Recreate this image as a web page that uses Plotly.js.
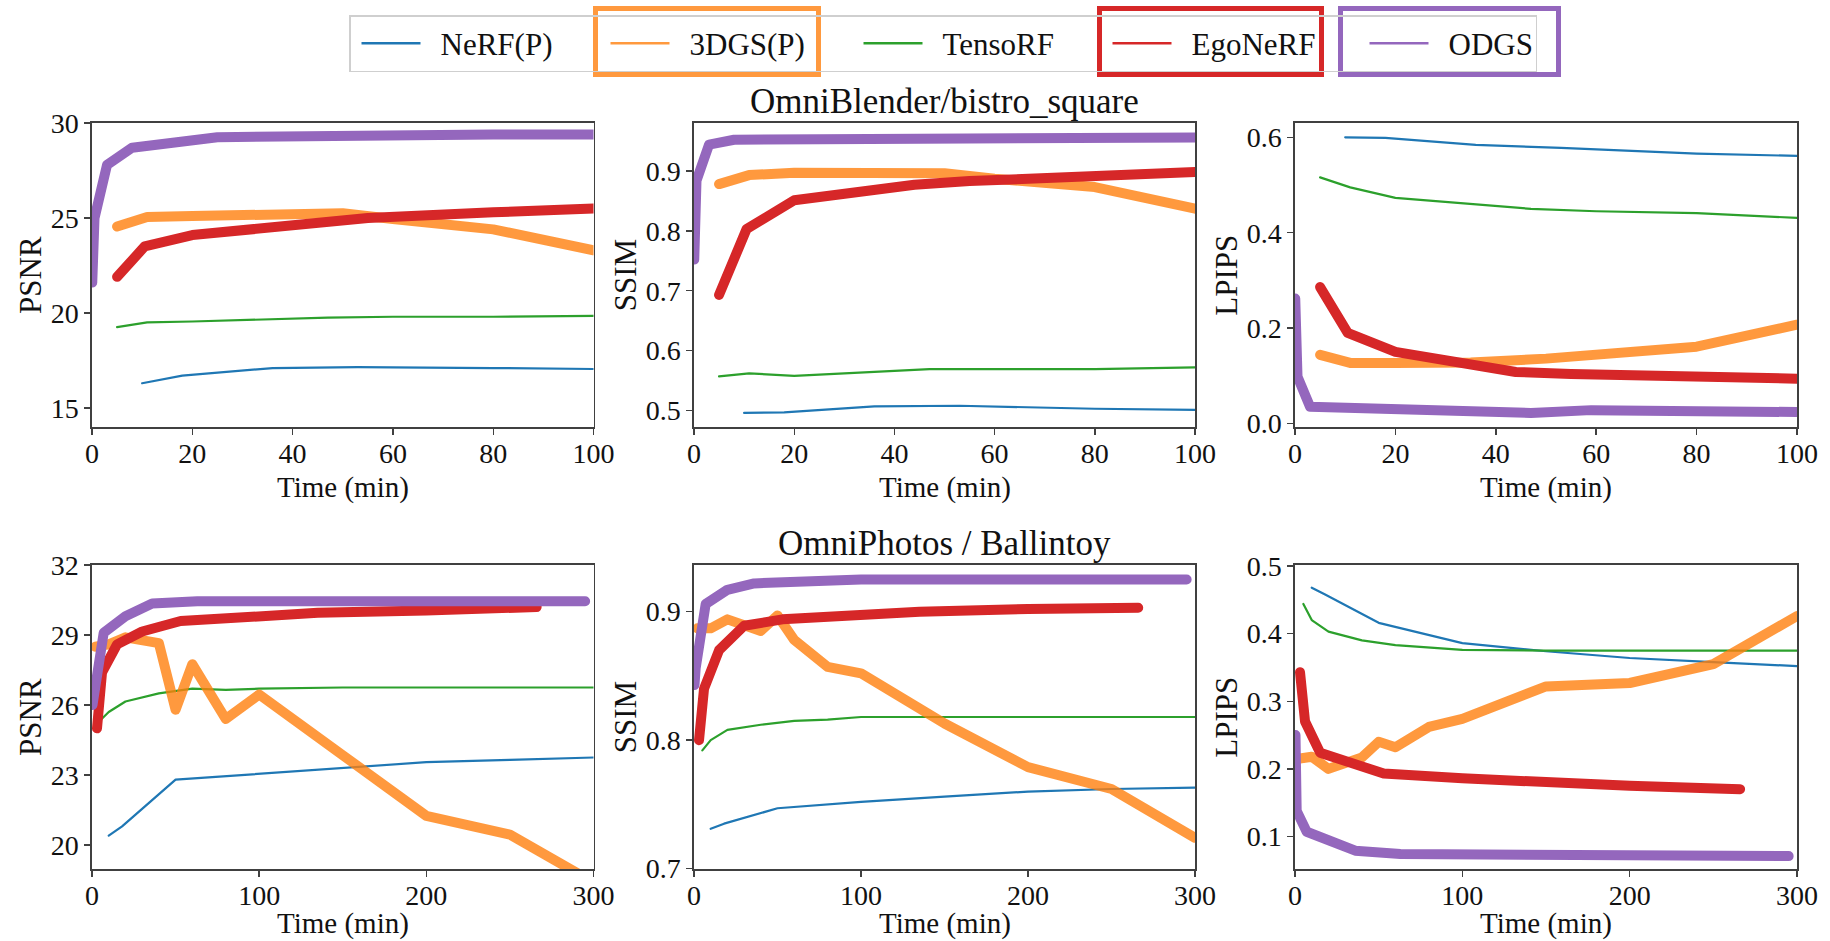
<!DOCTYPE html>
<html>
<head>
<meta charset="utf-8">
<script src="https://cdn.plot.ly/plotly-3.0.1.min.js"></script>
<style>
  html, body { margin: 0; padding: 0; background: #fff; }
  #chart { width: 1830px; height: 941px; }
  .scatterlayer .js-line { stroke-linecap: round !important; stroke-linejoin: round !important; }
  .legend .legendlines path { stroke-dasharray: 0px 6px 59px 400px !important; }
</style>
</head>
<body>
<div id="chart"></div>
<script>
// ---------------- DATA ----------------
const methods = ["NeRF(P)", "3DGS(P)", "TensoRF", "EgoNeRF", "ODGS"];
const datasetTitles = ["OmniBlender/bistro_square", "OmniPhotos / Ballintoy"];
const metricNames = ["PSNR", "SSIM", "LPIPS"];
const xTitle = "Time (min)";

// --- OmniBlender / bistro_square (time in minutes) ---
const topNerfT = [10, 18, 36, 53, 80, 100];
const topNerfPSNR = [16.3, 16.7, 17.1, 17.15, 17.1, 17.05];
const topNerfSSIM = [0.496, 0.497, 0.507, 0.508, 0.503, 0.501];
const topNerfLPIPS = [0.600, 0.599, 0.584, 0.578, 0.566, 0.561];

const topGsT = [5, 11, 20, 35, 50, 60, 80, 100];
const topGsPSNR = [24.55, 25.05, 25.1, 25.2, 25.25, 24.95, 24.4, 23.3];
const topGsSSIM = [0.878, 0.893, 0.897, 0.897, 0.896, 0.887, 0.873, 0.837];
const topGsLPIPS = [0.144, 0.127, 0.127, 0.128, 0.136, 0.144, 0.161, 0.207];

const topTensoT = [5, 11, 20, 47, 60, 80, 100];
const topTensoPSNR = [19.25, 19.5, 19.55, 19.75, 19.8, 19.8, 19.85];
const topTensoSSIM = [0.557, 0.562, 0.558, 0.569, 0.569, 0.569, 0.572];
const topTensoLPIPS = [0.516, 0.495, 0.473, 0.450, 0.445, 0.441, 0.431];

const topEgoT = [5, 10.5, 20, 44, 55, 80, 100];
const topEgoPSNR = [21.9, 23.5, 24.1, 24.65, 25.0, 25.3, 25.5];
const topEgoSSIM = [0.693, 0.803, 0.851, 0.877, 0.883, 0.893, 0.898];
const topEgoLPIPS = [0.286, 0.190, 0.150, 0.108, 0.104, 0.099, 0.094];

const topOdgsT = [0.05, 0.5, 3, 8, 25, 47, 59, 80, 100];
const topOdgsPSNR = [21.6, 25.0, 27.8, 28.7, 29.25, 29.35, 29.4, 29.4, 29.4];
const topOdgsSSIM = [0.752, 0.884, 0.944, 0.952, 0.953, 0.954, 0.955, 0.955, 0.956];
const topOdgsLPIPS = [0.262, 0.098, 0.035, 0.033, 0.028, 0.022, 0.028, 0.026, 0.024];

// --- OmniPhotos / Ballintoy ---
const botNerfT = [10, 18, 50, 100, 150, 200, 250, 300];
const botNerfPSNR = [20.4, 20.8, 22.8, 23.05, 23.3, 23.55, 23.65, 23.75];
const botNerfSSIM = [0.731, 0.735, 0.747, 0.752, 0.756, 0.760, 0.762, 0.763];
const botNerfLPIPS = [0.468, 0.458, 0.416, 0.386, 0.374, 0.364, 0.358, 0.352];

const botGsT = [2, 10, 20, 40, 50, 60, 80, 100, 150, 200, 250, 300];
const botGsPSNR = [28.5, 28.6, 28.9, 28.65, 25.8, 27.75, 25.4, 26.45, 23.85, 21.25, 20.45, 18.4];
const botGsSSIM = [0.887, 0.887, 0.894, 0.885, 0.897, 0.878, 0.857, 0.852, 0.813, 0.779, 0.762, 0.724];
const botGsLPIPS = [0.215, 0.218, 0.200, 0.217, 0.240, 0.232, 0.262, 0.274, 0.322, 0.327, 0.355, 0.426];

const botTensoT = [5, 10, 20, 40, 60, 80, 100, 150, 300];
const botTensoPSNR = [25.35, 25.7, 26.15, 26.5, 26.7, 26.65, 26.7, 26.75, 26.75];
const botTensoSSIM = [0.792, 0.800, 0.808, 0.812, 0.815, 0.816, 0.818, 0.818, 0.818];
const botTensoLPIPS = [0.444, 0.420, 0.403, 0.390, 0.383, 0.379, 0.376, 0.375, 0.375];

const botEgoT = [3, 6, 15, 30, 53, 100, 135, 200, 266];
const botEgoPSNR = [25.0, 27.4, 28.6, 29.15, 29.6, 29.8, 29.95, 30.05, 30.2];
const botEgoSSIM = [0.800, 0.840, 0.870, 0.889, 0.894, 0.898, 0.900, 0.902, 0.903];
const botEgoLPIPS = [0.343, 0.270, 0.224, 0.211, 0.193, 0.186, 0.181, 0.175, 0.170];

const botOdgsT = [0.3, 1, 7, 20, 36, 63, 100, 200, 295];
const botOdgsPSNR = [26.0, 26.3, 29.1, 29.8, 30.35, 30.45, 30.45, 30.45, 30.45];
const botOdgsSSIM = [0.843, 0.856, 0.906, 0.917, 0.922, 0.924, 0.925, 0.925, 0.925];
const botOdgsLPIPS = [0.250, 0.138, 0.107, 0.094, 0.079, 0.074, 0.073, 0.072, 0.071];

// axis ticks
const xTicksTop = [0, 20, 40, 60, 80, 100];
const xTicksBot = [0, 100, 200, 300];
const yTicks = [
  [15, 20, 25, 30], [0.5, 0.6, 0.7, 0.8, 0.9], [0.0, 0.2, 0.4, 0.6],
  [20, 23, 26, 29, 32], [0.7, 0.8, 0.9], [0.1, 0.2, 0.3, 0.4, 0.5]
];
const yTickText = [
  ["15", "20", "25", "30"], ["0.5", "0.6", "0.7", "0.8", "0.9"], ["0.0", "0.2", "0.4", "0.6"],
  ["20", "23", "26", "29", "32"], ["0.7", "0.8", "0.9"], ["0.1", "0.2", "0.3", "0.4", "0.5"]
];

// ---------------- STYLE ----------------
const W = 1830, H = 941;
const colors = {
  "NeRF(P)": "#1f77b4",
  "3DGS(P)": "rgba(255,127,14,0.8)",
  "TensoRF": "#2ca02c",
  "EgoNeRF": "#d62728",
  "ODGS": "#9467bd"
};
const widths = { "NeRF(P)": 2.2, "3DGS(P)": 10, "TensoRF": 2.2, "EgoNeRF": 10, "ODGS": 10 };
const legendWidths = { "NeRF(P)": 154, "3DGS(P)": 158, "TensoRF": 154, "EgoNeRF": 162, "ODGS": 82 };
const FONT = "Liberation Serif, Times New Roman, serif";

const colPx = [[92, 593.5], [694, 1195], [1295, 1797]];
const rowPx = [[123, 427.3], [565, 869.3]];
const yRanges = [[13.98, 30.0], [0.472, 0.980], [-0.008, 0.630], [18.96, 32.0], [0.6995, 0.9363], [0.0515, 0.5015]];

const series = [
  [0, "NeRF(P)", topNerfT, topNerfPSNR], [1, "NeRF(P)", topNerfT, topNerfSSIM], [2, "NeRF(P)", topNerfT, topNerfLPIPS],
  [0, "TensoRF", topTensoT, topTensoPSNR], [1, "TensoRF", topTensoT, topTensoSSIM], [2, "TensoRF", topTensoT, topTensoLPIPS],
  [0, "3DGS(P)", topGsT, topGsPSNR], [1, "3DGS(P)", topGsT, topGsSSIM], [2, "3DGS(P)", topGsT, topGsLPIPS],
  [0, "EgoNeRF", topEgoT, topEgoPSNR], [1, "EgoNeRF", topEgoT, topEgoSSIM], [2, "EgoNeRF", topEgoT, topEgoLPIPS],
  [0, "ODGS", topOdgsT, topOdgsPSNR], [1, "ODGS", topOdgsT, topOdgsSSIM], [2, "ODGS", topOdgsT, topOdgsLPIPS],
  [3, "NeRF(P)", botNerfT, botNerfPSNR], [4, "NeRF(P)", botNerfT, botNerfSSIM], [5, "NeRF(P)", botNerfT, botNerfLPIPS],
  [3, "TensoRF", botTensoT, botTensoPSNR], [4, "TensoRF", botTensoT, botTensoSSIM], [5, "TensoRF", botTensoT, botTensoLPIPS],
  [3, "3DGS(P)", botGsT, botGsPSNR], [4, "3DGS(P)", botGsT, botGsSSIM], [5, "3DGS(P)", botGsT, botGsLPIPS],
  [3, "EgoNeRF", botEgoT, botEgoPSNR], [4, "EgoNeRF", botEgoT, botEgoSSIM], [5, "EgoNeRF", botEgoT, botEgoLPIPS],
  [3, "ODGS", botOdgsT, botOdgsPSNR], [4, "ODGS", botOdgsT, botOdgsSSIM], [5, "ODGS", botOdgsT, botOdgsLPIPS]
];

const traces = [];
methods.forEach(m => {
  traces.push({
    type: "scatter", mode: "lines", name: m, x: [null], y: [null],
    line: { color: colors[m], width: 2.5 }, showlegend: true, hoverinfo: "skip",
    legendwidth: legendWidths[m], xaxis: "x", yaxis: "y"
  });
});
series.forEach(([p, m, xs, ys]) => {
  const n = p === 0 ? "" : String(p + 1);
  traces.push({
    type: "scatter", mode: "lines", name: m, x: xs, y: ys,
    line: { color: colors[m], width: widths[m] },
    showlegend: false, xaxis: "x" + n, yaxis: "y" + n
  });
});

const layout = {
  width: W, height: H,
  margin: { l: 0, r: 0, t: 0, b: 0 },
  paper_bgcolor: "#fff", plot_bgcolor: "#fff",
  font: { family: FONT, color: "#111", size: 28 },
  showlegend: true,
  legend: {
    orientation: "h", x: 349 / W, xanchor: "left", y: 1 - 15 / H, yanchor: "top",
    bgcolor: "rgba(0,0,0,0)", bordercolor: "#cfcfcf", borderwidth: 1.5,
    font: { family: FONT, size: 31, color: "#111" },
    itemwidth: 80
  },
  annotations: [],
  shapes: []
};

for (let p = 0; p < 6; p++) {
  const r = p < 3 ? 0 : 1, c = p % 3;
  const n = p === 0 ? "" : String(p + 1);
  const common = {
    showline: true, mirror: true, linecolor: "#404040", linewidth: 1.6,
    ticks: "outside", ticklen: 6, tickwidth: 1.4, tickcolor: "#404040",
    showgrid: false, zeroline: false,
    tickfont: { family: FONT, size: 28, color: "#111" }
  };
  layout["xaxis" + n] = Object.assign({}, common, {
    domain: [colPx[c][0] / W, colPx[c][1] / W],
    anchor: "y" + n,
    range: r === 0 ? [0, 100] : [0, 300],
    tickvals: r === 0 ? xTicksTop : xTicksBot,
    ticktext: (r === 0 ? xTicksTop : xTicksBot).map(String),
    ticklabelstandoff: -6
  });
  layout["yaxis" + n] = Object.assign({}, common, {
    domain: [1 - rowPx[r][1] / H, 1 - rowPx[r][0] / H],
    anchor: "x" + n,
    range: yRanges[p],
    tickvals: yTicks[p], ticktext: yTickText[p],
    title: { text: metricNames[c], font: { family: FONT, size: 31, color: "#111" }, standoff: 0 }
  });
  // x-axis title placed as text under each panel
  const xa = {
    text: xTitle, xref: "paper", yref: "paper",
    x: (colPx[c][0] + colPx[c][1]) / 2 / W,
    xanchor: "center", showarrow: false, borderpad: 0, borderwidth: 0,
    font: { family: FONT, size: 29, color: "#111" }
  };
  if (r === 0) { xa.y = 1 - 487 / H; xa.yanchor = "middle"; }
  else { xa.y = 1.5 / H; xa.yanchor = "bottom"; }
  layout.annotations.push(xa);
}

[0, 1].forEach(r => {
  layout.annotations.push({
    text: datasetTitles[r], xref: "paper", yref: "paper",
    x: (colPx[1][0] + colPx[1][1]) / 2 / W, y: 1 - rowPx[r][0] / H,
    xanchor: "center", yanchor: "bottom", yshift: 0, showarrow: false,
    font: { family: FONT, size: 35, color: "#111" }
  });
});

const boxes = [
  [593, 821, "rgba(255,127,14,0.8)"],
  [1097, 1324, "#d62728"],
  [1338, 1561, "#9467bd"]
];
boxes.forEach(([x0, x1, col]) => {
  layout.shapes.push({
    type: "rect", xref: "paper", yref: "paper",
    x0: (x0 + 2.5) / W, x1: (x1 - 2.5) / W,
    y0: 1 - (77 - 2.5) / H, y1: 1 - (6 + 2.5) / H,
    line: { color: col, width: 5 }, fillcolor: "rgba(0,0,0,0)", layer: "above"
  });
});

Plotly.newPlot("chart", traces, layout, { staticPlot: true, displayModeBar: false });
</script>
</body>
</html>
